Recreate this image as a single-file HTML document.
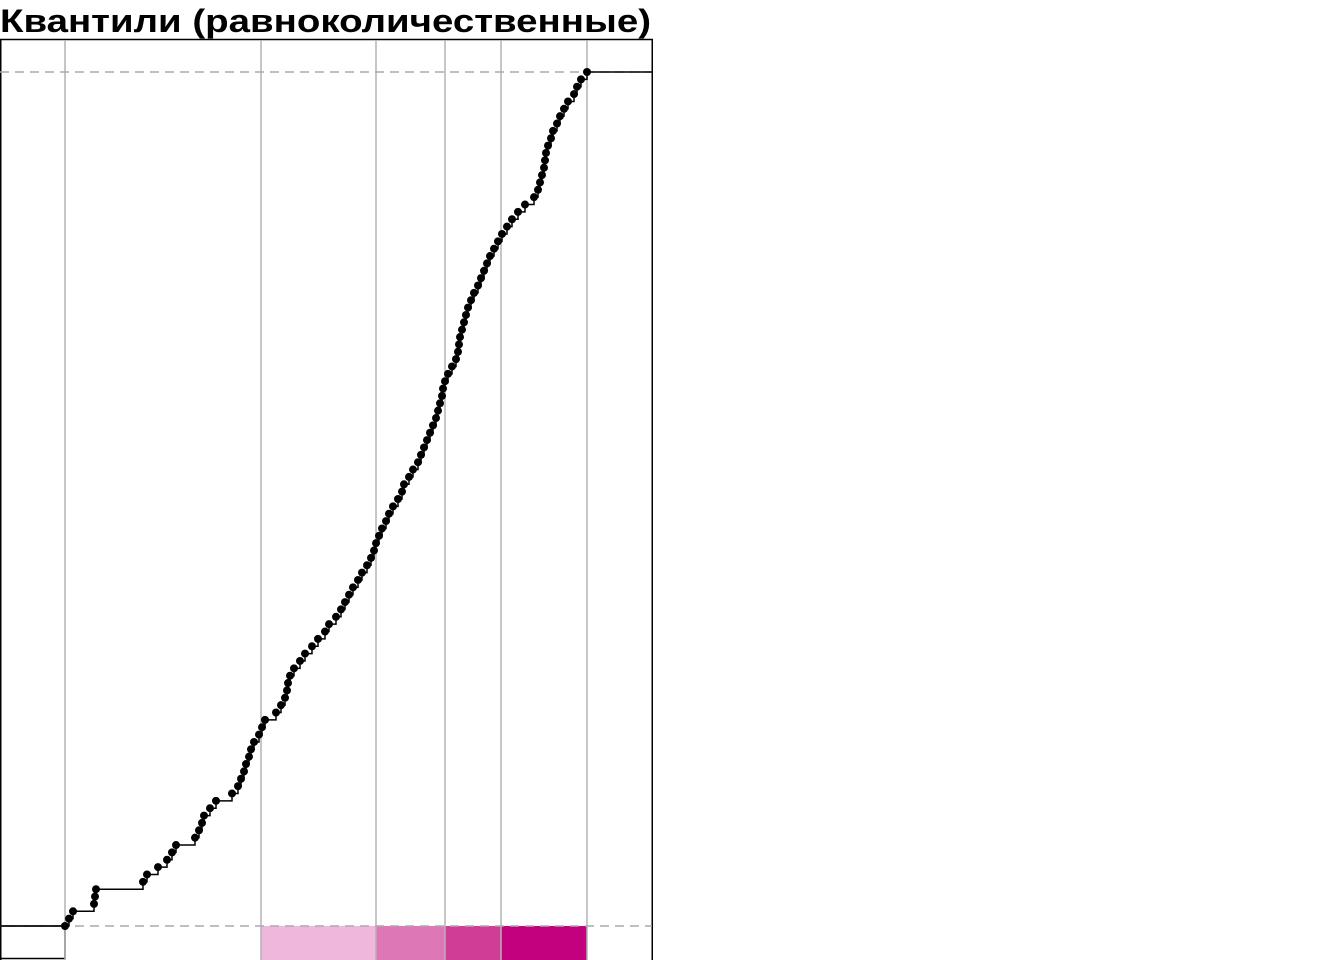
<!DOCTYPE html>
<html><head><meta charset="utf-8"><style>body{margin:0;background:#fff}svg{display:block}</style></head>
<body>
<svg id="chart" width="1344" height="960" xmlns="http://www.w3.org/2000/svg">
<text x="0" y="32" font-family="Liberation Sans, sans-serif" font-weight="bold" font-size="32" textLength="651" lengthAdjust="spacingAndGlyphs">Квантили (равноколичественные)</text>
<g id="plot"></g>
</svg>
<script>
const values = [65,69,73,94,95,96,143,147,158,167,172,176,195,199,202,204,210,216,232,238,241,244,246,249,251,254,259,262,265,276,281,285,287,288,290,294,300,305,312,318,325,329,336,341,345,349,353,358,362,367,371,374,376,379,382,386,389,393,398,402,404,409,413,418,421,424,427,430,433,436,438,440,442,443,445,448,452,456,458,459,460,462,464,466,468,471,474,478,481,484,487,490,494,498,502,507,512,518,525,534,538,540,542,544,545,546,548,551,553,557,560,564,568,574,577,581,587];
const breaks = [65,261,376,445,501,587];
const binColors = ['#ffffff','#f0b7dc','#de77b6','#d03d96','#c3007e'];
const xDomain = [0,652], yDomain = [0,1];
const xScale = v => (v - xDomain[0]) / (xDomain[1]-xDomain[0]) * 652;
const yScale = f => 926 - (f - yDomain[0]) / (yDomain[1]-yDomain[0]) * 854;
const NS = 'http://www.w3.org/2000/svg';
const g = document.getElementById('plot');
function mk(tag, at){const e=document.createElementNS(NS,tag);for(const k in at)e.setAttribute(k,at[k]);g.appendChild(e);return e;}
for(let i=0;i<breaks.length-1;i++){
  const r=mk('rect',{x:xScale(breaks[i]),y:926,width:xScale(breaks[i+1])-xScale(breaks[i]),height:34,fill:binColors[i]});
  
  
}
const lb=mk('rect',{x:0.5,y:926,width:xScale(breaks[0])-0.5,height:32.5,fill:'none',stroke:'#000','stroke-width':1.5});


const fr=mk('rect',{x:0.75,y:39.5,width:651.5,height:925,fill:'none',stroke:'#000','stroke-width':1.5});


breaks.forEach((b,i)=>{
  const l=mk('line',{x1:xScale(b),x2:xScale(b),y1:40,y2:960,stroke:'#b3b3b3','stroke-width':1.5});
  
  
});
[0,1].forEach(f=>{
  const l=mk('line',{x1:0,x2:652,y1:yScale(f),y2:yScale(f),stroke:'#aaaaaa','stroke-width':1.5,'stroke-dasharray':'9,6'});
  
  
});
const n=values.length;
let d='M0,'+yScale(0)+' L'+xScale(values[0])+','+yScale(0);
values.forEach((v,i)=>{
  const f=i/(n-1);
  d+=' L'+xScale(v)+','+yScale(f);
  const nx=i<n-1?values[i+1]:652;
  d+=' L'+xScale(nx)+','+yScale(f);
});
const p=mk('path',{d:d,fill:'none',stroke:'#000','stroke-width':1.5});


values.forEach((v,i)=>{
  const c=mk('circle',{cx:xScale(v),cy:yScale(i/(n-1)),r:4,fill:'#000'});
  
  
});
</script>
</body></html>
